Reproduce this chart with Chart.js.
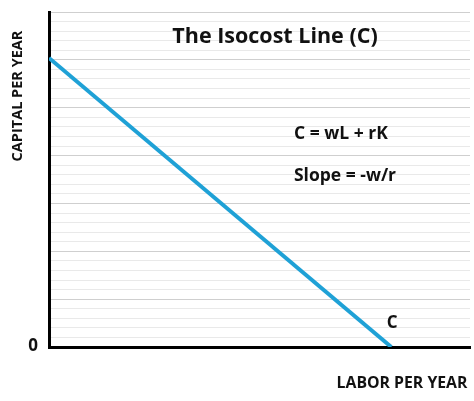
<!DOCTYPE html>
<html>
<head>
<meta charset="utf-8">
<script src="https://cdn.jsdelivr.net/npm/chart.js@4.4.0/dist/chart.umd.min.js"></script>
<style>
  html, body { margin: 0; padding: 0; background: #fff; }
  #wrap { width: 474px; height: 401px; position: relative; }
</style>
</head>
<body>
<div id="wrap"><canvas id="isocostChart"></canvas></div>
<script>
// isocost line: capital at L=0, labor at K=0
const laborValues = [0, 81.3];
const capitalValues = [30.2, 0];
const yMax = 35;
const xMax = 100;

const titleText = 'The Isocost Line (C)';
const equationText = 'C = wL + rK';
const slopeText = 'Slope = -w/r';
const lineLabel = 'C';
const yAxisTitle = 'CAPITAL PER YEAR';
const xAxisTitle = 'LABOR PER YEAR';

const FONT = '"Open Sans", "Liberation Sans", sans-serif';

// draws the title, notes and axis captions
const textPlugin = {
    id: 'isocostText',
    afterDraw(chart) {
        const ctx = chart.ctx;
        const xs = chart.scales.x, ys = chart.scales.y;
        ctx.save();
        ctx.fillStyle = '#111';
        ctx.textBaseline = 'middle';
        ctx.textAlign = 'center';

        ctx.font = 'bold 21.5px ' + FONT;
        ctx.fillText(titleText, 275, 37);

        ctx.font = 'bold 17.5px ' + FONT;
        ctx.fillText(equationText, 341, 134);
        ctx.fillText(slopeText, 345, 176);

        // label at the end of the line
        ctx.font = 'bold 17px ' + FONT;
        ctx.fillText(lineLabel, xs.getPixelForValue(laborValues[1]) + 1, 323);

        ctx.font = 'bold 17px ' + FONT;
        ctx.fillText('0', 33, ys.getPixelForValue(0) - 1);

        ctx.font = 'bold 15.8px ' + FONT;
        ctx.fillText(xAxisTitle, 402, 383);

        ctx.font = 'bold 14.5px ' + FONT;
        ctx.translate(18, 96);
        ctx.rotate(-Math.PI / 2);
        ctx.fillText(yAxisTitle, 0, 0);
        ctx.restore();
    }
};

document.addEventListener('DOMContentLoaded', function() {
    const ctx = document.getElementById('isocostChart').getContext('2d');
    new Chart(ctx, {
        type: 'scatter',
        data: {
            datasets: [{
                data: laborValues.map((x, i) => ({ x: x, y: capitalValues[i] })),
                showLine: true,
                borderColor: '#1fa1d6',
                borderWidth: 4,
                pointRadius: 0,
                borderCapStyle: 'butt'
            }]
        },
        options: {
            responsive: true,
            maintainAspectRatio: false,
            animation: false,
            layout: { padding: { left: 49, right: 4, top: 12, bottom: 54 } },
            plugins: {
                legend: { display: false },
                tooltip: { enabled: false }
            },
            scales: {
                x: {
                    type: 'linear',
                    min: 0,
                    max: xMax,
                    ticks: { display: false },
                    grid: { display: false, drawTicks: false },
                    border: { display: true, color: '#000', width: 3 }
                },
                y: {
                    min: 0,
                    max: yMax,
                    ticks: { display: false, stepSize: 1 },
                    grid: {
                        drawTicks: false,
                        color: c => (c.tick.value % 5 === 0 ? '#cfcfcf' : '#e9e9e9'),
                        lineWidth: 1
                    },
                    border: { display: true, color: '#000', width: 3 }
                }
            }
        },
        plugins: [textPlugin]
    });
});
</script>
</body>
</html>
